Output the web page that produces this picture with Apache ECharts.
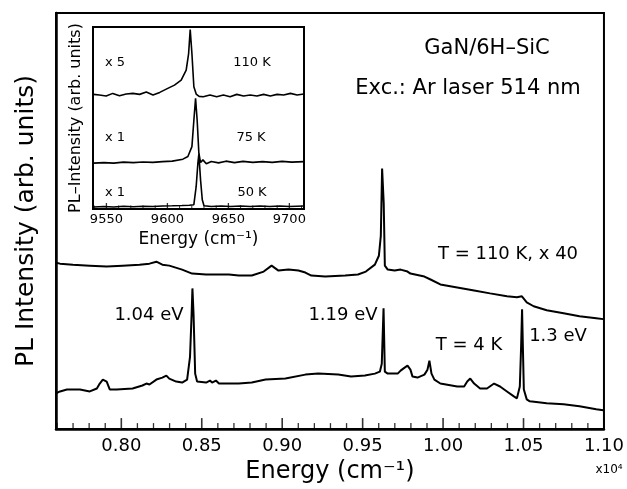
<!DOCTYPE html>
<html>
<head>
<meta charset="utf-8">
<script src="https://cdn.jsdelivr.net/npm/echarts@6/dist/echarts.min.js"></script>
<style>
  html, body { margin: 0; padding: 0; background: #fff; }
  #chart { width: 627px; height: 489px; }
</style>
</head>
<body>
<div id="chart"></div>
<script>
// main panel, energy in 10^4 cm-1, intensity in arb. units
var upperE = [0.7594, 0.7619, 0.7699, 0.7804, 0.7909, 0.8008, 0.8113, 0.8175, 0.8218, 0.8255, 0.8298, 0.8378, 0.8440, 0.8527, 0.8607, 0.8669, 0.8730, 0.8811, 0.8885, 0.8934, 0.8977, 0.9039, 0.9101, 0.9144, 0.9181, 0.9267, 0.9391, 0.9471, 0.9520, 0.9576, 0.9601, 0.9613, 0.9621, 0.9631, 0.9638, 0.9656, 0.9699, 0.9736, 0.9779, 0.9797, 0.9884, 0.9922, 0.9983, 1.0088, 1.0193, 1.0292, 1.0397, 1.0459, 1.0490, 1.0520, 1.0563, 1.0644, 1.0749, 1.0848, 1.0952, 1.0996]
var upperI = [168, 167, 166, 165, 164, 165, 166, 167, 169, 166, 165, 161, 157, 156, 156, 156, 155, 155, 159, 165, 160, 161, 160, 158, 155, 154, 155, 156, 159, 166, 175, 195, 263, 228, 165, 161, 160, 161, 159, 157, 154, 151, 146, 143, 140, 137, 134, 133, 134, 128, 124, 120, 117, 114, 112, 111]

var lowerE = [0.7594, 0.7619, 0.7662, 0.7743, 0.7804, 0.7848, 0.7866, 0.7885, 0.7909, 0.7928, 0.7971, 0.8070, 0.8131, 0.8156, 0.8175, 0.8218, 0.8255, 0.8280, 0.8298, 0.8341, 0.8378, 0.8409, 0.8427, 0.8437, 0.8442, 0.8449, 0.8459, 0.8471, 0.8527, 0.8551, 0.8564, 0.8588, 0.8607, 0.8730, 0.8811, 0.8897, 0.9020, 0.9144, 0.9224, 0.9348, 0.9428, 0.9514, 0.9576, 0.9607, 0.9619, 0.9630, 0.9638, 0.9656, 0.9718, 0.9736, 0.9761, 0.9779, 0.9797, 0.9810, 0.9841, 0.9884, 0.9903, 0.9915, 0.9928, 0.9946, 0.9983, 1.0088, 1.0131, 1.0150, 1.0169, 1.0193, 1.0230, 1.0273, 1.0317, 1.0354, 1.0397, 1.0440, 1.0459, 1.0477, 1.0485, 1.0491, 1.0496, 1.0502, 1.0520, 1.0539, 1.0644, 1.0749, 1.0848, 1.0952, 1.0996]
var lowerI = [36, 38, 40, 40, 38, 41, 46, 50, 48, 40, 40, 41, 44, 46, 45, 50, 52, 54, 51, 48, 47, 50, 73, 116, 142, 116, 56, 48, 47, 49, 47, 49, 46, 46, 47, 50, 51, 55, 56, 55, 53, 54, 56, 58, 66, 122, 58, 56, 56, 59, 62, 64, 60, 53, 52, 55, 60, 69, 56, 50, 46, 43, 43, 48, 51, 46, 41, 41, 46, 43, 38, 33, 31, 43, 83, 121, 83, 40, 30, 28, 26, 25, 23, 20, 19]

var majorTicks = [0.80, 0.85, 0.90, 0.95, 1.00, 1.05, 1.10]

// inset, energy in cm-1
var e110 = [9539.5, 9544.2, 9549.8, 9555.2, 9560.7, 9566.2, 9571.7, 9577.2, 9582.7, 9588.2, 9593.7, 9600.3, 9605.8, 9611.3, 9615.4, 9617.4, 9618.7, 9620.1, 9621.7, 9623.6, 9626.0, 9629.4, 9634.9, 9640.4, 9645.9, 9651.4, 9656.9, 9662.4, 9667.9, 9673.4, 9678.9, 9684.4, 9689.9, 9695.3, 9700.9, 9706.4, 9711.8]
var i110 = [115, 114.3, 113.3, 116, 113.6, 115.3, 116, 115, 117.3, 114.3, 117, 121, 124.3, 129.3, 139.3, 156, 180, 156, 122.6, 115.3, 113, 112.6, 114.3, 112.6, 114.3, 112.6, 115, 113.3, 114.3, 113.3, 115, 113.3, 115, 114.3, 116, 114.3, 115.3]

var e75 = [9539.5, 9548, 9556, 9564, 9572, 9580, 9588, 9596, 9604, 9612.7, 9616.8, 9620.1, 9621.7, 9623.1, 9624.4, 9625.8, 9627.2, 9629.1, 9631.9, 9636, 9642, 9648, 9655, 9662, 9670, 9678, 9686, 9694, 9702, 9712]
var i75 = [46, 46.5, 46, 47, 46.5, 47.2, 46.8, 47.5, 48, 50, 52.6, 62.6, 89, 111, 89, 56, 46.6, 49.3, 45.3, 47.6, 46.3, 48, 46.5, 47.8, 46.8, 47.5, 46.8, 47.8, 47, 47.5]

var e50 = [9539.5, 9548, 9556, 9564, 9572, 9580, 9588, 9596, 9604, 9612, 9618, 9621.7, 9623.6, 9625, 9625.8, 9627.2, 9628.6, 9630, 9636, 9644, 9652, 9660, 9668, 9676, 9684, 9692, 9700, 9712]
var i50 = [2, 2.5, 2, 2.8, 2.2, 2.8, 2.5, 3, 3.2, 3.5, 3.8, 4.3, 22.6, 46, 55, 29, 9.3, 3.3, 2.5, 3, 2.5, 3, 2.5, 3, 2.5, 3, 2.5, 3]

var insetTicks = [9550, 9600, 9650, 9700]

function zip(xs, ys) {
  return xs.map(function (x, i) { return [x, ys[i]] })
}

var minorTicks = []
for (var k = 76; k <= 109; k++) {
  if (k % 5 !== 0) minorTicks.push(k / 100)
}
var insetMinor = []
for (var m = 9540; m <= 9710; m += 10) {
  if (m % 50 !== 0) insetMinor.push(m)
}

// tick marks drawn as thin rect symbols sitting on the x axis
function tickSeries(vals, xi, yi, w, len) {
  return {
    type: 'scatter', xAxisIndex: xi, yAxisIndex: yi, silent: true, clip: false, z: 12,
    symbol: 'rect', symbolSize: [w, len], symbolOffset: [0, -len / 2],
    itemStyle: { color: '#000' },
    data: vals.map(function (v) { return [v, 0] })
  }
}

var FONT = 'DejaVu Sans'
var chart = echarts.init(document.getElementById('chart'))

function txt(text, x, y, size) {
  return {
    type: 'text', x: x, y: y, z: 100,
    style: {
      text: text, fill: '#000', fontSize: size, fontFamily: FONT,
      align: 'center', verticalAlign: 'middle',
      textAlign: 'center', textVerticalAlign: 'middle'
    }
  }
}

var option = {
  backgroundColor: '#fff',
  animation: false,
  grid: [
    { left: 56, top: 13, right: 20, bottom: 56, show: true, borderColor: '#000', borderWidth: 2 },
    { left: 93, top: 27, right: 323, bottom: 280, show: true, borderColor: '#000', borderWidth: 2, backgroundColor: '#fff', z: 5 }
  ],
  xAxis: [
    {
      type: 'value', gridIndex: 0, min: 0.7594, max: 1.10,
      axisLine: { lineStyle: { color: '#000', width: 2.5 } },
      axisTick: { show: false },
      axisLabel: {
        customValues: majorTicks, color: '#000', fontSize: 18, fontFamily: FONT, margin: 8,
        formatter: function (v) { return v.toFixed(2) }
      },
      splitLine: { show: false },
      name: 'Energy (cm⁻¹)', nameLocation: 'middle', nameGap: 30,
      nameTextStyle: { color: '#000', fontSize: 24, fontFamily: FONT }
    },
    {
      type: 'value', gridIndex: 1, min: 9539, max: 9712,
      axisLine: { lineStyle: { color: '#000', width: 2 } },
      axisTick: { show: false },
      axisLabel: {
        customValues: insetTicks, color: '#000', fontSize: 13, fontFamily: FONT, margin: 4,
        formatter: function (v) { return String(v) }
      },
      splitLine: { show: false },
      name: 'Energy (cm⁻¹)', nameLocation: 'middle', nameGap: 22,
      nameTextStyle: { color: '#000', fontSize: 17, fontFamily: FONT }
    }
  ],
  yAxis: [
    {
      type: 'value', gridIndex: 0, min: 0, max: 420,
      axisLine: { show: true, lineStyle: { color: '#000', width: 2.5 } },
      axisTick: { show: false }, axisLabel: { show: false }, splitLine: { show: false },
      name: 'PL Intensity (arb. units)', nameLocation: 'middle', nameGap: 17,
      nameTextStyle: { color: '#000', fontSize: 25, fontFamily: FONT }
    },
    {
      type: 'value', gridIndex: 1, min: 0, max: 182.6,
      axisLine: { show: true, lineStyle: { color: '#000', width: 2 } },
      axisTick: { show: false }, axisLabel: { show: false }, splitLine: { show: false },
      name: 'PL–Intensity (arb. units)', nameLocation: 'middle', nameGap: 9,
      nameTextStyle: { color: '#000', fontSize: 16, fontFamily: FONT }
    }
  ],
  series: [
    { type: 'line', xAxisIndex: 0, yAxisIndex: 0, data: zip(upperE, upperI), showSymbol: false, lineStyle: { color: '#000', width: 2 } },
    { type: 'line', xAxisIndex: 0, yAxisIndex: 0, data: zip(lowerE, lowerI), showSymbol: false, lineStyle: { color: '#000', width: 2 } },
    tickSeries(majorTicks, 0, 0, 1.6, 11),
    tickSeries(minorTicks, 0, 0, 1.3, 6),
    { type: 'line', xAxisIndex: 1, yAxisIndex: 1, data: zip(e110, i110), showSymbol: false, z: 10, lineStyle: { color: '#000', width: 1.6 } },
    { type: 'line', xAxisIndex: 1, yAxisIndex: 1, data: zip(e75, i75), showSymbol: false, z: 10, lineStyle: { color: '#000', width: 1.6 } },
    { type: 'line', xAxisIndex: 1, yAxisIndex: 1, data: zip(e50, i50), showSymbol: false, z: 10, lineStyle: { color: '#000', width: 1.6 } },
    tickSeries(insetTicks, 1, 1, 1.3, 6),
    tickSeries(insetMinor, 1, 1, 1, 3.5)
  ],
  graphic: [
    txt('GaN/6H–SiC', 487, 49, 21),
    txt('Exc.: Ar laser 514 nm', 468, 89, 21),
    txt('T = 110 K, x 40', 508, 254, 18),
    txt('1.04 eV', 149, 315, 18),
    txt('1.19 eV', 343, 315, 18),
    txt('T = 4 K', 469, 345, 18),
    txt('1.3 eV', 558, 336, 18),
    txt('x10⁴', 609, 470, 12),
    txt('x 5', 115, 63, 13),
    txt('110 K', 252, 63, 13),
    txt('x 1', 115, 138, 13),
    txt('75 K', 251, 138, 13),
    txt('x 1', 115, 193, 13),
    txt('50 K', 252, 193, 13)
  ]
}

chart.setOption(option)
</script>
</body>
</html>
